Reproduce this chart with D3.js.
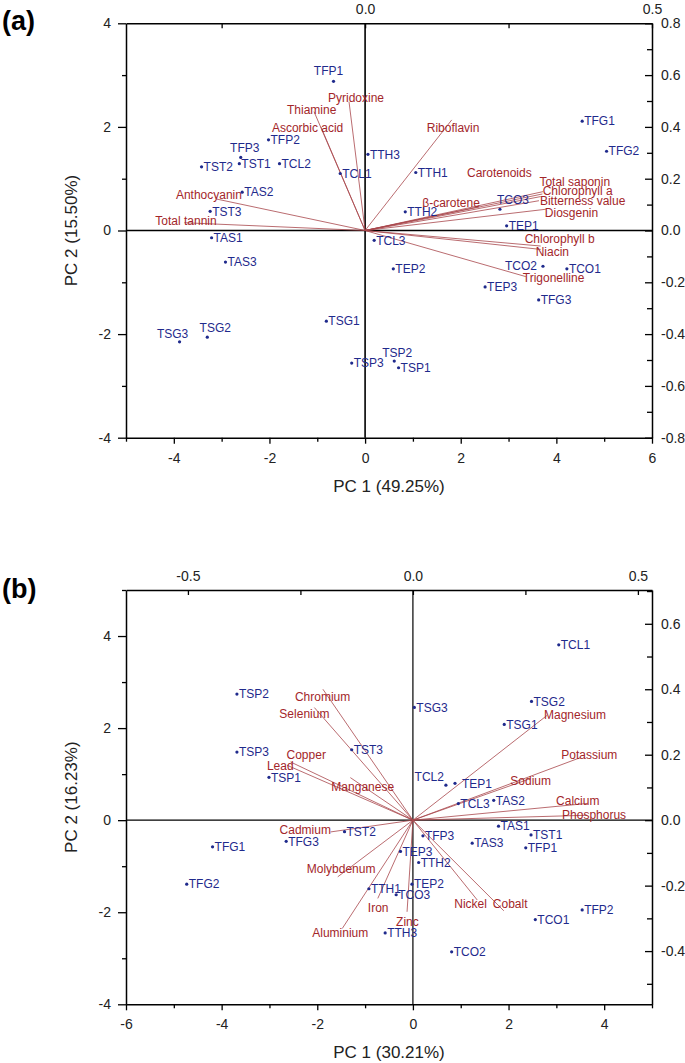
<!DOCTYPE html>
<html>
<head>
<meta charset="utf-8">
<script src="https://cdn.jsdelivr.net/npm/d3@7"></script>
<style>
body { margin: 0; background: #fff; }
svg text { font-family: "Liberation Sans", Arial, sans-serif; }
</style>
</head>
<body>
<div id="chart"></div>
<script>
// sample codes, same order in both panels
var samples = ["TFP1","TFP2","TFP3","TST1","TST2","TST3","TCL1","TCL2","TCL3",
  "TTH1","TTH2","TTH3","TAS1","TAS2","TAS3","TSG1","TSG2","TSG3",
  "TSP1","TSP2","TSP3","TEP1","TEP2","TEP3","TCO1","TCO2","TCO3","TFG1","TFG2","TFG3"];

// panel (a) scores
var pc1A = [-0.66,-2.02,-2.60,-2.63,-3.42,-3.24,-0.52,-1.79,0.19,
  1.06,0.84,0.06,-3.21,-2.57,-2.92,-0.81,-3.30,-3.88,
  0.70,0.61,-0.28,2.96,0.59,2.51,4.22,3.72,2.82,4.54,5.05,3.63];
var pc2A = [2.88,1.75,1.41,1.29,1.23,0.37,1.10,1.29,-0.19,
  1.12,0.36,1.47,-0.14,0.74,-0.61,-1.75,-2.06,-2.15,
  -2.65,-2.52,-2.56,0.09,-0.74,-1.09,-0.74,-0.69,0.41,2.11,1.53,-1.34];

// panel (a) loadings
var varsA = ["Pyridoxine","Thiamine","Ascorbic acid","Riboflavin","Anthocyanin","Total tannin",
  "Carotenoids","β-carotene","Total saponin","Chlorophyll a","Bitterness value","Diosgenin",
  "Chlorophyll b","Niacin","Trigonelline"];
var load1A = [-0.028,-0.089,-0.077,0.151,-0.26,-0.315,0.31,0.199,0.309,0.306,0.303,0.315,0.306,0.306,0.28];
var load2A = [0.497,0.459,0.40,0.427,0.122,0.03,0.15,0.092,0.141,0.131,0.115,0.082,-0.06,-0.073,-0.178];

// panel (b) scores
var pc1B = [2.36,3.54,0.21,2.47,-1.43,-1.28,3.05,0.69,0.95,
  -0.92,0.12,-0.58,1.79,1.69,1.24,1.91,2.48,0.03,
  -3.01,-3.68,-3.68,0.88,-0.02,-0.26,2.56,0.81,-0.35,-4.19,-4.73,-2.65];
var pc2B = [-0.60,-1.95,-0.34,-0.32,-0.25,1.53,3.81,0.76,0.36,
  -1.49,-0.92,-2.45,-0.13,0.43,-0.50,2.08,2.58,2.45,
  0.93,2.74,1.48,0.80,-1.39,-0.68,-2.16,-2.86,-1.62,-0.58,-1.39,-0.46];

// panel (b) loadings
var varsB = ["Chromium","Selenium","Copper","Lead","Manganese","Magnesium","Potassium","Sodium",
  "Calcium","Phosphorus","Cadmium","Molybdenum","Iron","Aluminium","Zinc","Nickel","Cobalt"];
var load1B = [-0.200,-0.219,-0.272,-0.28,-0.139,0.298,0.372,0.261,0.387,0.387,-0.183,-0.167,-0.078,-0.157,-0.013,0.143,0.202];
var load2B = [0.40,0.344,0.178,0.168,0.130,0.32,0.191,0.127,0.051,0.015,-0.036,-0.173,-0.239,-0.331,-0.28,-0.244,-0.277];

// tick values
var xTicksA = [-4,-2,0,2,4,6], xMinorA = [-5,-3,-1,1,3,5];
var yTicksA = [-4,-2,0,2,4], yMinorA = [-3,-1,1,3];
var topTicksA = [0,0.5], topMinorA = [-0.25,0.25];
var rightTicksA = [-0.8,-0.6,-0.4,-0.2,0,0.2,0.4,0.6,0.8], rightMinorA = [-0.7,-0.5,-0.3,-0.1,0.1,0.3,0.5,0.7];

var xTicksB = [-6,-4,-2,0,2,4], xMinorB = [-5,-3,-1,1,3,5];
var yTicksB = [-4,-2,0,2,4], yMinorB = [-3,-1,1,3,5];
var topTicksB = [-0.5,0,0.5], topMinorB = [-0.25,0.25];
var rightTicksB = [-0.4,-0.2,0,0.2,0.4,0.6], rightMinorB = [-0.5,-0.3,-0.1,0.1,0.3,0.5,0.7];

// label placement tweaks (pixels)
var scoreLabelA = {TFP1:[-5,-11,"middle"], TFP3:[4,-10,"middle"], TSG2:[8,-9,"middle"],
  TSG3:[-7,-8,"middle"], TSP2:[3,-8,"middle"], TCO3:[13,-9,"middle"], TCO2:[-6,0,"end"]};
var scoreLabelB = {TCL2:[-2,-8,"end"], TEP1:[7,0,"start"]};
var varLabelA = {"Pyridoxine":[-21,-4],"Thiamine":[-27,-2],"Ascorbic acid":[-49,1],"Riboflavin":[-25,8],
  "Anthocyanin":[-40,-4],"Total tannin":[-29,-2],"Carotenoids":[-76,-19],"β-carotene":[-57,-4],
  "Total saponin":[-3,-12],"Chlorophyll a":[2,-6],"Bitterness value":[1,0],"Diosgenin":[-1,4],
  "Chlorophyll b":[-16,-7],"Niacin":[-5,2],"Trigonelline":[-3,1]};
var varLabelB = {"Chromium":[-28,8],"Selenium":[-35,6],"Copper":[-4,-7],"Lead":[-20,1],"Manganese":[-19,9],
  "Magnesium":[-3,-1],"Potassium":[-19,-3],"Sodium":[-20,2],"Calcium":[-31,-3],"Phosphorus":[-25,0],
  "Cadmium":[-51,-2],"Molybdenum":[-31,-8],"Iron":[-10,9],"Aluminium":[-30,4],"Zinc":[-11,10],
  "Nickel":[-23,4],"Cobalt":[-11,-7]};

var blue = "#1f2a8c", red = "#a3262a", vecColor = "#a8464b";
var plotLeft = 126, plotRight = 652;

var svg = d3.select("#chart").append("svg")
  .attr("width", 685).attr("height", 1063);

drawPanel({
  tag: "(a)", tagY: 30, top: 23.3, bottom: 437.7,
  xDomain: [-5, 6], yDomain: [-4, 4], xRatio: 12, yRatio: 5,
  pc1: pc1A, pc2: pc2A, vars: varsA, l1: load1A, l2: load2A,
  xTicks: xTicksA, xMinor: xMinorA, yTicks: yTicksA, yMinor: yMinorA,
  topTicks: topTicksA, topMinor: topMinorA, rightTicks: rightTicksA, rightMinor: rightMinorA,
  scoreLabel: scoreLabelA, varLabel: varLabelA, zeroWidth: 1.6,
  xTitle: "PC 1 (49.25%)", yTitle: "PC 2 (15.50%)"
});

drawPanel({
  tag: "(b)", tagY: 598, top: 590, bottom: 1004.3,
  xDomain: [-6, 5], yDomain: [-4, 5], xRatio: 9.41, yRatio: 7.11,
  pc1: pc1B, pc2: pc2B, vars: varsB, l1: load1B, l2: load2B,
  xTicks: xTicksB, xMinor: xMinorB, yTicks: yTicksB, yMinor: yMinorB,
  topTicks: topTicksB, topMinor: topMinorB, rightTicks: rightTicksB, rightMinor: rightMinorB,
  scoreLabel: scoreLabelB, varLabel: varLabelB, zeroWidth: 1.2,
  xTitle: "PC 1 (30.21%)", yTitle: "PC 2 (16.23%)"
});

function drawPanel(p) {
  var g = svg.append("g");

  var x = d3.scaleLinear().domain(p.xDomain).range([plotLeft, plotRight]);
  var y = d3.scaleLinear().domain(p.yDomain).range([p.bottom, p.top]);
  // loading scales share the origin with the score scales
  var xL = d3.scaleLinear().domain(p.xDomain.map(d => d / p.xRatio)).range([plotLeft, plotRight]);
  var yL = d3.scaleLinear().domain(p.yDomain.map(d => d / p.yRatio)).range([p.bottom, p.top]);

  var fmtInt = d => String(d);
  var fmtDec = d => d.toFixed(1);

  // zero lines
  g.append("line")
    .attr("x1", plotLeft).attr("x2", plotRight)
    .attr("y1", y(0)).attr("y2", y(0))
    .attr("stroke", "#000").attr("stroke-width", p.zeroWidth);
  g.append("line")
    .attr("x1", x(0)).attr("x2", x(0))
    .attr("y1", p.top).attr("y2", p.bottom)
    .attr("stroke", "#000").attr("stroke-width", p.zeroWidth);

  // loading vectors
  g.selectAll("line.vec")
    .data(p.vars)
    .enter()
    .append("line")
    .attr("class", "vec")
    .attr("x1", xL(0)).attr("y1", yL(0))
    .attr("x2", (d, i) => xL(p.l1[i]))
    .attr("y2", (d, i) => yL(p.l2[i]))
    .attr("stroke", vecColor)
    .attr("stroke-width", 0.8);

  // axes: major then minor ticks
  function addAxis(axis, transform, minor) {
    var a = g.append("g").attr("transform", transform).call(axis);
    a.selectAll("text")
      .attr("font-family", "Liberation Sans, Arial, sans-serif")
      .attr("font-size", 14).attr("fill", "#222");
    a.selectAll("line").attr("stroke", "#000").attr("stroke-width", 1.3);
    a.select(".domain").attr("stroke", "#000").attr("stroke-width", 1.5);
    var m = g.append("g").attr("transform", transform).call(minor);
    m.select(".domain").remove();
    m.selectAll("line").attr("stroke", "#000").attr("stroke-width", 1.3);
    return a;
  }

  addAxis(
    d3.axisBottom(x).tickValues(p.xTicks).tickFormat(fmtInt).tickSize(6).tickSizeOuter(0).tickPadding(9),
    `translate(0, ${p.bottom})`,
    d3.axisBottom(x).tickValues(p.xMinor).tickFormat("").tickSize(4)
  );
  addAxis(
    d3.axisLeft(y).tickValues(p.yTicks).tickFormat(fmtInt).tickSize(8).tickSizeOuter(0).tickPadding(7),
    `translate(${plotLeft}, 0)`,
    d3.axisLeft(y).tickValues(p.yMinor).tickFormat("").tickSize(4)
  );
  addAxis(
    d3.axisTop(xL).tickValues(p.topTicks).tickFormat(fmtDec).tickSize(-5).tickSizeOuter(0).tickPadding(9),
    `translate(0, ${p.top})`,
    d3.axisTop(xL).tickValues(p.topMinor).tickFormat("").tickSize(-5)
  );
  addAxis(
    d3.axisRight(yL).tickValues(p.rightTicks).tickFormat(fmtDec).tickSize(-7).tickSizeOuter(0).tickPadding(9),
    `translate(${plotRight}, 0)`,
    d3.axisRight(yL).tickValues(p.rightMinor).tickFormat("").tickSize(-5)
  );

  // loading labels
  g.selectAll("text.var")
    .data(p.vars)
    .enter()
    .append("text")
    .attr("class", "var")
    .attr("x", (d, i) => xL(p.l1[i]) + p.varLabel[d][0])
    .attr("y", (d, i) => yL(p.l2[i]) + p.varLabel[d][1])
    .attr("dy", "0.35em")
    .attr("font-size", 12)
    .attr("fill", red)
    .text(d => d);

  // score points
  g.selectAll("circle")
    .data(samples)
    .enter()
    .append("circle")
    .attr("cx", (d, i) => x(p.pc1[i]))
    .attr("cy", (d, i) => y(p.pc2[i]))
    .attr("r", 1.6)
    .attr("fill", blue);

  g.selectAll("text.score")
    .data(samples)
    .enter()
    .append("text")
    .attr("class", "score")
    .attr("x", (d, i) => x(p.pc1[i]) + (p.scoreLabel[d] ? p.scoreLabel[d][0] : 2))
    .attr("y", (d, i) => y(p.pc2[i]) + (p.scoreLabel[d] ? p.scoreLabel[d][1] : 0))
    .attr("dy", "0.35em")
    .attr("text-anchor", d => p.scoreLabel[d] ? p.scoreLabel[d][2] : "start")
    .attr("font-size", 12)
    .attr("fill", blue)
    .text(d => d);

  // axis titles
  g.append("text")
    .attr("x", (plotLeft + plotRight) / 2)
    .attr("y", p.bottom + 48)
    .attr("dy", "0.35em")
    .attr("text-anchor", "middle")
    .attr("font-size", 17)
    .attr("fill", "#222")
    .text(p.xTitle);

  g.append("text")
    .attr("transform", `translate(71, ${(p.top + p.bottom) / 2}) rotate(-90)`)
    .attr("dy", "0.35em")
    .attr("text-anchor", "middle")
    .attr("font-size", 17)
    .attr("fill", "#222")
    .text(p.yTitle);

  // panel tag
  g.append("text")
    .attr("x", 2)
    .attr("y", p.tagY)
    .attr("font-size", 27)
    .attr("font-weight", "bold")
    .attr("fill", "#000")
    .text(p.tag);
}
</script>
</body>
</html>
